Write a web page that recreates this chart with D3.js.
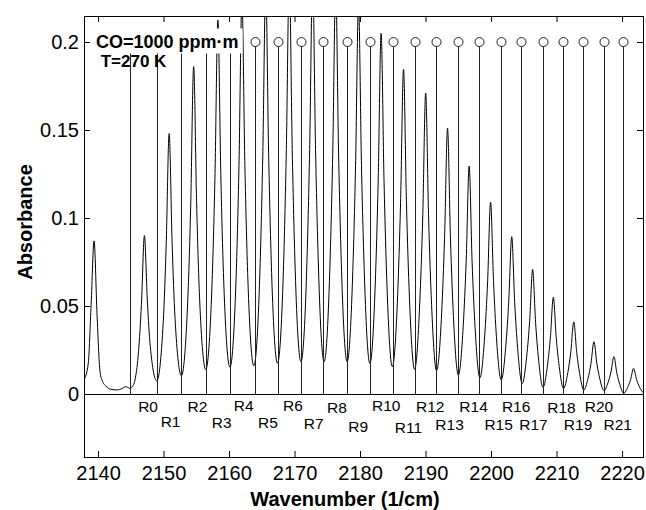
<!DOCTYPE html>
<html>
<head>
<meta charset="utf-8">
<script src="https://cdn.jsdelivr.net/npm/d3@7"></script>
<style>
body { margin: 0; background: #fff; }
text { font-family: "Liberation Sans", Arial, Helvetica, sans-serif; }
</style>
</head>
<body>
<div id="chart"></div>
<script>
// axis ticks
var xTicks = [2140, 2150, 2160, 2170, 2180, 2190, 2200, 2210, 2220];
var yTicks = [0, 0.05, 0.1, 0.15, 0.2];

var spectrum = [
  [2137.86, 0.008],
  [2138.50, 0.017], [2138.95, 0.051], [2139.40, 0.087], [2139.85, 0.045], [2140.30, 0.013],
  [2140.60, 0.008], [2141.20, 0.0045], [2141.95, 0.0027], [2142.96, 0.0023], [2143.72, 0.0032],
  [2144.24, 0.0042], [2144.85, 0.0032], [2145.30, 0.0045], [2145.70, 0.009],
  [2146.18, 0.024], [2146.63, 0.051], [2147.08, 0.090], [2147.53, 0.053], [2147.98, 0.027], [2148.97, 0.0075],
  [2149.96, 0.041], [2150.41, 0.085], [2150.86, 0.148], [2151.31, 0.086], [2151.76, 0.043], [2152.73, 0.0104],
  [2153.70, 0.053], [2154.15, 0.107], [2154.60, 0.186], [2155.05, 0.109], [2155.50, 0.055], [2156.45, 0.014],
  [2157.40, 0.062], [2157.85, 0.123], [2158.30, 0.2125], [2158.75, 0.124], [2159.20, 0.063], [2160.14, 0.0152],
  [2161.07, 0.065], [2161.52, 0.130], [2161.97, 0.224], [2162.42, 0.130], [2162.87, 0.066], [2163.79, 0.016],
  [2164.70, 0.068], [2165.15, 0.135], [2165.60, 0.232], [2166.05, 0.136], [2166.50, 0.069], [2167.40, 0.0175],
  [2168.30, 0.070], [2168.75, 0.139], [2169.20, 0.238], [2169.65, 0.139], [2170.10, 0.071], [2170.98, 0.0184],
  [2171.86, 0.071], [2172.31, 0.139], [2172.76, 0.238], [2173.21, 0.139], [2173.66, 0.071], [2174.52, 0.0184],
  [2175.38, 0.070], [2175.83, 0.136], [2176.28, 0.232], [2176.73, 0.136], [2177.18, 0.070], [2178.03, 0.0184],
  [2178.87, 0.067], [2179.32, 0.130], [2179.77, 0.222], [2180.22, 0.130], [2180.67, 0.067], [2181.50, 0.0174],
  [2182.32, 0.062], [2182.77, 0.121], [2183.22, 0.205], [2183.67, 0.120], [2184.12, 0.061], [2184.93, 0.0155],
  [2185.74, 0.056], [2186.19, 0.109], [2186.64, 0.1845], [2187.09, 0.108], [2187.54, 0.055], [2188.33, 0.014],
  [2189.12, 0.052], [2189.57, 0.100], [2190.02, 0.171], [2190.47, 0.100], [2190.92, 0.051], [2191.69, 0.0133],
  [2192.46, 0.046], [2192.91, 0.089], [2193.36, 0.151], [2193.81, 0.088], [2194.26, 0.044], [2195.01, 0.0108],
  [2195.76, 0.039], [2196.21, 0.076], [2196.66, 0.1295], [2197.11, 0.075], [2197.56, 0.038], [2198.30, 0.0092],
  [2199.03, 0.033], [2199.48, 0.064], [2199.93, 0.109], [2200.38, 0.064], [2200.83, 0.032], [2201.55, 0.008],
  [2202.26, 0.0275], [2202.71, 0.053], [2203.16, 0.0894], [2203.61, 0.052], [2204.06, 0.026], [2204.76, 0.006],
  [2205.45, 0.0216], [2205.90, 0.0416], [2206.35, 0.0708], [2206.80, 0.0407], [2207.25, 0.0199], [2207.93, 0.0038],
  [2208.61, 0.0161], [2209.06, 0.032], [2209.51, 0.055], [2209.96, 0.0317], [2210.41, 0.0156], [2211.07, 0.0032],
  [2211.73, 0.0123], [2212.18, 0.024], [2212.63, 0.041], [2213.08, 0.0236], [2213.53, 0.0116], [2214.17, 0.0023],
  [2214.81, 0.0089], [2215.26, 0.0174], [2215.71, 0.0297], [2216.16, 0.0172], [2216.61, 0.0086], [2217.24, 0.0019],
  [2217.86, 0.0065], [2218.31, 0.0125], [2218.76, 0.0212], [2219.21, 0.0118], [2219.66, 0.0054], [2220.26, 0.0004],
  [2220.86, 0.0038], [2221.31, 0.0082], [2221.76, 0.0146], [2222.21, 0.0083], [2222.66, 0.004], [2223.20, 0.0008]
];

// vertical marker lines (wavenumber), each topped by a circle at 0.2
var lineWn = [2144.9, 2149.0, 2152.6, 2156.5, 2160.1, 2163.9, 2167.5, 2171.0, 2174.4, 2178.0, 2181.5,
  2185.0, 2188.4, 2191.6, 2195.0, 2198.2, 2201.5, 2204.6, 2208.0, 2211.0, 2214.1, 2217.2, 2220.1];
var lineTop = 0.2;

// line names and where they sit
var labelNames = ["R0", "R1", "R2", "R3", "R4", "R5", "R6", "R7", "R8", "R9", "R10",
  "R11", "R12", "R13", "R14", "R15", "R16", "R17", "R18", "R19", "R20", "R21"];
var labelWn = [2147.64, 2151.08, 2155.19, 2158.89, 2162.24, 2165.95, 2169.76, 2172.94, 2176.48, 2179.73, 2184.0,
  2187.38, 2190.71, 2193.67, 2197.33, 2201.16, 2203.83, 2206.48, 2210.76, 2213.29, 2216.48, 2219.34];
var labelAbs = [-0.0104, -0.0186, -0.0102, -0.0195, -0.0099, -0.0191, -0.0095, -0.0201, -0.011, -0.0214, -0.0097,
  -0.0222, -0.0101, -0.0205, -0.0101, -0.0205, -0.0101, -0.0205, -0.011, -0.0205, -0.0101, -0.0205];

var note1 = "CO=1000 ppm\u00b7m";
var note2 = " T=270 K";

function draw() {
  var width = 646, height = 510;
  var pL = 84, pR = 643, pT = 16, pB = 457;
  var font = '"Liberation Sans", Arial, Helvetica, sans-serif';

  var x = d3.scaleLinear().domain([2137.86, 2223.2]).range([pL, pR]);
  var y = d3.scaleLinear().domain([-0.0358, 0.2148]).range([pB, pT]);

  var svg = d3.select("#chart").append("svg")
    .attr("width", width)
    .attr("height", height);

  svg.append("clipPath").attr("id", "plotclip")
    .append("rect")
    .attr("x", pL).attr("y", pT)
    .attr("width", pR - pL).attr("height", pB - pT);

  var plot = svg.append("g").attr("clip-path", "url(#plotclip)");

  // zero line
  plot.append("line")
    .attr("x1", pL).attr("x2", pR)
    .attr("y1", Math.round(y(0)) + 0.5).attr("y2", Math.round(y(0)) + 0.5)
    .attr("stroke", "#000").attr("stroke-width", 1);

  var line = d3.line()
    .curve(d3.curveMonotoneX)
    .x(function(d) { return x(d[0]); })
    .y(function(d) { return y(d[1]); });

  plot.append("path")
    .datum(spectrum)
    .attr("d", line)
    .attr("fill", "none")
    .attr("stroke", "#000")
    .attr("stroke-width", 1);

  var r = 4.5;
  plot.selectAll(".mark").data(lineWn).enter().append("line")
    .attr("class", "mark")
    .attr("x1", function(d) { return Math.round(x(d)) + 0.5; })
    .attr("x2", function(d) { return Math.round(x(d)) + 0.5; })
    .attr("y1", y(0))
    .attr("y2", y(lineTop) + r)
    .attr("stroke", "#222").attr("stroke-width", 1);

  plot.selectAll(".ring").data(lineWn).enter().append("circle")
    .attr("class", "ring")
    .attr("cx", function(d) { return Math.round(x(d)) + 0.5; })
    .attr("cy", y(lineTop))
    .attr("r", r)
    .attr("fill", "none")
    .attr("stroke", "#222").attr("stroke-width", 1);

  // R labels under the zero line
  svg.selectAll(".lab").data(labelNames).enter().append("text")
    .attr("class", "lab")
    .attr("x", function(d, i) { return x(labelWn[i]); })
    .attr("y", function(d, i) { return y(labelAbs[i]); })
    .attr("text-anchor", "middle")
    .attr("font-size", 15.5)
    .text(function(d) { return d; });

  // axes, ticks pointing inwards
  var gx = svg.append("g").attr("transform", "translate(0," + pB + ")")
    .call(d3.axisBottom(x).tickValues(xTicks).tickSize(-6).tickSizeOuter(0).tickPadding(9)
      .tickFormat(d3.format("d")));
  var gxt = svg.append("g").attr("transform", "translate(0," + pT + ")")
    .call(d3.axisTop(x).tickValues(xTicks).tickSize(-6).tickSizeOuter(0).tickFormat(""));
  var gy = svg.append("g").attr("transform", "translate(" + pL + ",0)")
    .call(d3.axisLeft(y).tickValues(yTicks).tickSize(-6).tickSizeOuter(0).tickPadding(5)
      .tickFormat(function(d) { return String(d); }));
  var gyr = svg.append("g").attr("transform", "translate(" + pR + ",0)")
    .call(d3.axisRight(y).tickValues(yTicks).tickSize(-6).tickSizeOuter(0).tickFormat(""));

  [gx, gxt, gy, gyr].forEach(function(g) {
    g.select(".domain").remove();
    g.attr("font-size", 20).attr("font-family", font);
  });

  svg.append("rect")
    .attr("x", pL + 0.5).attr("y", pT + 0.5)
    .attr("width", pR - pL).attr("height", pB - pT)
    .attr("fill", "none").attr("stroke", "#000").attr("stroke-width", 1);

  // annotation, first line on a white box
  var n1 = svg.append("text")
    .attr("x", 96).attr("y", 47.5)
    .attr("font-size", 18).attr("font-weight", "bold")
    .text(note1);
  var bb = n1.node().getBBox();
  svg.insert("rect", "text")
    .attr("x", bb.x - 4).attr("y", bb.y - 3)
    .attr("width", bb.width + 8).attr("height", bb.height + 5)
    .attr("fill", "#fff");
  svg.append("text")
    .attr("x", 96).attr("y", 67)
    .attr("font-size", 17).attr("font-weight", "bold")
    .style("white-space", "pre")
    .text(note2);

  svg.append("text")
    .attr("x", 345).attr("y", 506)
    .attr("text-anchor", "middle")
    .attr("font-size", 20).attr("font-weight", "bold")
    .text("Wavenumber (1/cm)");

  svg.append("text")
    .attr("transform", "translate(32,222) rotate(-90)")
    .attr("text-anchor", "middle")
    .attr("font-size", 20).attr("font-weight", "bold")
    .text("Absorbance");
}

draw();
</script>
</body>
</html>
